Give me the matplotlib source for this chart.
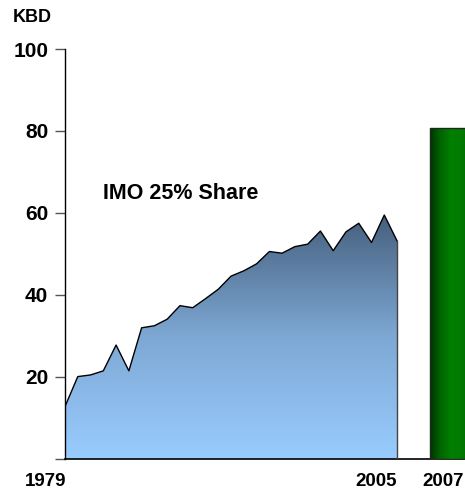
import numpy as np
import matplotlib.pyplot as plt
from matplotlib.colors import LinearSegmentedColormap

plt.rcParams["font.family"] = ["Liberation Sans", "DejaVu Sans"]
plt.rcParams["font.weight"] = "bold"

# IMO share of production, KBD
years = np.arange(1979, 2006)
kbd = [12.8, 20.1, 20.5, 21.5, 27.8, 21.5, 32.0, 32.5, 34.1, 37.4,
       36.9, 39.1, 41.4, 44.6, 45.9, 47.6, 50.6, 50.2, 51.8, 52.4,
       55.6, 50.8, 55.4, 57.5, 52.8, 59.5, 53.2]
bar_label = "2007"
bar_value = 80.7
year_labels = ["1979", "2005", "2007"]
yticks = [0, 20, 40, 60, 80, 100]

fig = plt.figure(figsize=(4.65, 4.92), dpi=100)
ax = fig.add_axes([65 / 465, 33 / 492, 400 / 465, 410 / 492])
ax.set_xlim(1979, 2010.32)
ax.set_ylim(0, 100)

# area with vertical gradient
poly = ax.fill_between(years, kbd, 0, color="none", lw=0)
area_cmap = LinearSegmentedColormap.from_list("area", ["#99ccff", "#7ea8d4", "#46607e"])
grad = np.linspace(0, 1, 256).reshape(-1, 1)
im = ax.imshow(grad, cmap=area_cmap, origin="lower", aspect="auto",
               extent=[years[0], years[-1], 0, max(kbd)], zorder=1)
im.set_clip_path(poly.get_paths()[0], transform=ax.transData)
ax.plot(years, kbd, color="black", lw=1.0, zorder=3)
ax.plot([years[-1], years[-1]], [0, kbd[-1]], color="#444444", lw=1.0, zorder=3)

# 2007 bar with horizontal gradient
bx0, bx1 = 2007.6, 2010.9
bar = ax.bar(bx0, bar_value, width=bx1 - bx0, align="edge", color="none",
             edgecolor="#1a2a1a", lw=1.0, zorder=4)
bar_cmap = LinearSegmentedColormap.from_list(
    "bar", ["#003300", "#006600", "#008000", "#007a00", "#005a00"])
hgrad = np.linspace(0, 1, 256).reshape(1, -1)
bim = ax.imshow(hgrad, cmap=bar_cmap, aspect="auto",
                extent=[bx0, bx1, 0, bar_value], zorder=3)
bim.set_clip_path(bar.patches[0])
ax.set_xlim(1979, 2010.32)
ax.set_ylim(0, 100)

# axes
for s in ["top", "right"]:
    ax.spines[s].set_visible(False)
ax.spines["left"].set_linewidth(1.0)
ax.spines["bottom"].set_linewidth(1.2)
ax.set_xticks([])
ax.set_yticks(yticks)
ax.set_yticklabels([""] + [str(v) for v in yticks[1:]])
ax.tick_params(axis="y", direction="out", length=7, width=1.0, pad=5,
               labelsize=15, color="#555555")
for lbl in ax.get_yticklabels():
    lbl.set_fontweight("bold")

# year labels under the axis
for txt, xv in zip(year_labels, [1979.1, 2005, 2010.25]):
    ax.text(xv, -5.6, txt, ha="right", va="center", fontsize=13.5, fontweight="bold")

fig.text(13 / 465, 1 - 17 / 492, "KBD", ha="left", va="center", fontsize=13, fontweight="bold")
ax.text(1982.0, 64.8, "IMO 25% Share", ha="left", va="center", fontsize=15.5, fontweight="bold")

fig.savefig("out.png", dpi=100)
